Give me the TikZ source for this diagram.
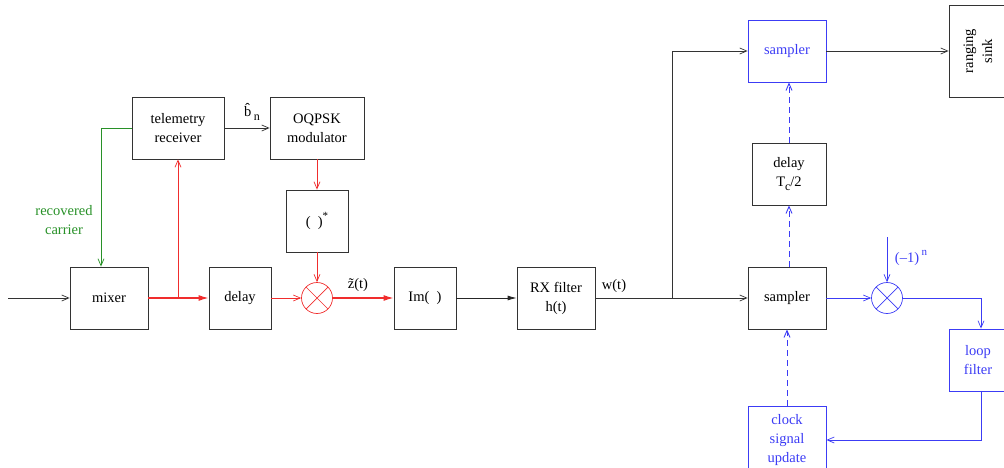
\documentclass[tikz,border=0pt]{standalone}
\usepackage{fontspec}
\setmainfont{Liberation Serif}
\usetikzlibrary{arrows.meta,positioning,calc}
\definecolor{tmblue}{RGB}{60,60,245}
\definecolor{tmred}{RGB}{240,45,45}
\definecolor{tmgreen}{RGB}{40,145,40}
\newcommand{\lowsub}[1]{\raisebox{-3.5pt}{\fontsize{12}{12}\selectfont #1}}
\newcommand{\highsup}[1]{\raisebox{7pt}{\fontsize{11}{11}\selectfont #1}}
\tikzset{
  blkbox/.style={rectangle,draw=black!80,minimum width=78pt,minimum height=62pt,
    align=center,font=\fontsize{14.5}{19}\selectfont,inner sep=2pt,line width=0.8pt},
  bluebox/.style={blkbox,draw=tmblue,text=tmblue},
  mult/.style={circle,draw=#1,minimum size=31pt,inner sep=0pt,line width=0.7pt,
    path picture={\draw[#1,line width=0.7pt]
      (path picture bounding box.north west) -- (path picture bounding box.south east)
      (path picture bounding box.north east) -- (path picture bounding box.south west);}},
  lbl/.style={font=\fontsize{14.5}{19}\selectfont,inner sep=1pt},
  arrow/.style={-{Straight Barb[length=7pt,width=6pt]},line width=0.7pt,draw=black!80},
  farrow/.style={-{Latex[length=9pt,width=5pt]},line width=0.8pt,draw=black!85},
  rarrow/.style={arrow,draw=tmred},
  rthick/.style={-{Latex[length=10pt,width=6pt]},line width=1.3pt,draw=tmred},
  garrow/.style={arrow,draw=tmgreen},
  barrow/.style={arrow,draw=tmblue},
  bdarrow/.style={-{Straight Barb[length=7pt,width=6pt]},line width=0.9pt,draw=tmblue,dash pattern=on 6pt off 4pt},
}

\begin{document}
\begin{tikzpicture}[x=1pt,y=-1pt]
  \useasboundingbox (0,0) rectangle (1004,468);
  % front end
  \node[blkbox] (mixer) at (109,298) {mixer};
  \node[blkbox, minimum width=92pt] (telrx) at (178,128) {telemetry\\receiver};
  \node[blkbox, minimum width=94pt] (oqpsk) at (317,128) {OQPSK\\modulator};
  \node[blkbox, minimum width=62pt] (conj) at (317,221) {(\ \ )\highsup{*}};
  \node[blkbox, minimum width=62pt] (delay) at (240,298) {delay};
  \node[mult=tmred] (mulr) at (317,298) {};
  \node[blkbox, minimum width=62pt] (imag) at (425,298) {Im(\ \ )};
  \node[blkbox] (rxf) at (556,298) {RX filter\\h(t)};
  % timing loop
  \node[blkbox] (smp) at (787,298) {sampler};
  \node[bluebox] (smpt) at (787,51) {sampler};
  \node[blkbox, minimum width=74pt] (dly) at (789,174) {delay\\T\lowsub{c}/2};
  \node[mult=tmblue] (mulb) at (887,298) {};
  \node[blkbox, rotate=90, minimum width=92pt, minimum height=58pt] (sink) at (978,51) {ranging\\sink};
  \node[bluebox, minimum width=58pt] (loop) at (978,360) {loop\\filter};
  \node[bluebox, minimum height=68pt] (clk) at (787,440) {clock\\signal\\update};

  \coordinate (in) at (8,298);
  \coordinate (split) at (178,298);
  \coordinate (wjn) at (672,298);
  \coordinate (sgn) at (887,237);

  % labels
  \node[lbl, text=tmgreen, align=center] (rcar) at (64,220) {recovered\\carrier};
  \node[lbl] (bhat) at (252,112) {\^{b}\,\lowsub{n}};
  \node[lbl] (zt) at (358,285) {\~{z}(t)};
  \node[lbl] (wt) at (614,286) {w(t)};
  \node[lbl, text=tmblue] (sgnl) at (911,258) {(--1)\,\highsup{n}};

  % connectors
  \draw[arrow] (in) -- (mixer);
  \draw[garrow] (telrx.west) -| ([xshift=-8pt]mixer.north);
  \draw[rthick] (mixer) -- (delay);
  \draw[rarrow] (split) -- (telrx);
  \draw[arrow] (telrx) -- (oqpsk);
  \draw[rarrow] (oqpsk) -- (conj);
  \draw[rarrow] (conj) -- (mulr);
  \draw[rarrow] (delay) -- (mulr);
  \draw[rthick] (mulr) -- (imag);
  \draw[farrow] (imag) -- (rxf);
  \draw[arrow] (rxf) -- (smp);
  \draw[arrow] (wjn) |- (smpt);
  \draw[arrow] (smpt) -- (sink);
  \draw[barrow] (smp) -- (mulb);
  \draw[barrow] (sgn) -- (mulb);
  \draw[barrow] (mulb) -| ([xshift=3pt]loop.north);
  \draw[barrow] ([xshift=3pt]loop.south) |- (clk);
  \draw[bdarrow] (clk) -- (smp);
  \draw[bdarrow] ([xshift=2pt]smp.north) -- (dly);
  \draw[bdarrow] (dly) -- ([xshift=2pt]smpt.south);
\end{tikzpicture}
\end{document}
